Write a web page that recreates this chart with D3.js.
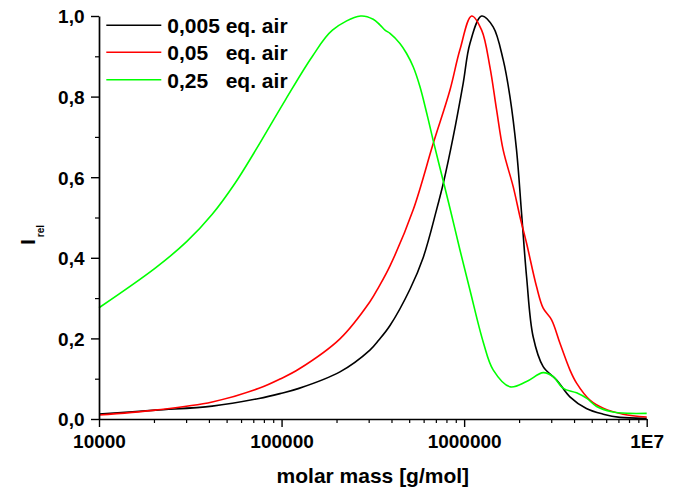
<!DOCTYPE html>
<html>
<head>
<meta charset="utf-8">
<script src="https://cdn.jsdelivr.net/npm/d3@7"></script>
<style>
  html, body { margin: 0; padding: 0; background: #fff; }
  svg { display: block; }
  text { font-family: "Liberation Sans", Arial, Helvetica, sans-serif; font-weight: bold; fill: #000; }
</style>
</head>
<body>
<svg id="chart" width="676" height="490"></svg>
<script>
// ---- Data ----
const seriesNames = ["0,005", "0,05", "0,25"];
const seriesColors = ["#000000", "#ff0000", "#00ff00"];

const massBlack = [10000, 20400, 41700, 75200, 98000, 124500, 208800, 304700, 341000, 392600, 505000, 597000, 706000, 769000, 871000, 988000, 1076000, 1247000, 1442000, 1637000, 1782000, 1937000, 2064000, 2198000, 2388000, 2710000, 3211000, 3796000, 4673000, 5781000, 7129000, 10000000];
const valBlack  = [0.012, 0.022, 0.032, 0.051, 0.063, 0.076, 0.117, 0.171, 0.196, 0.232, 0.322, 0.401, 0.519, 0.585, 0.700, 0.833, 0.932, 1.000, 0.973, 0.891, 0.800, 0.667, 0.510, 0.353, 0.204, 0.130, 0.097, 0.055, 0.026, 0.012, 0.004, 0.002];

const massRed = [10000, 20400, 41700, 75200, 99000, 124500, 208800, 304700, 341000, 392600, 526000, 677600, 835000, 948000, 1099000, 1247000, 1384000, 1506000, 1637000, 1858000, 2022000, 2198000, 2494000, 2710000, 3013000, 3349000, 3796000, 4130000, 4887000, 5781000, 7430000, 10000000];
const valRed  = [0.010, 0.022, 0.042, 0.076, 0.100, 0.124, 0.199, 0.291, 0.328, 0.380, 0.519, 0.684, 0.815, 0.916, 1.000, 0.965, 0.874, 0.767, 0.667, 0.576, 0.502, 0.436, 0.328, 0.275, 0.246, 0.188, 0.122, 0.089, 0.047, 0.027, 0.012, 0.005];

const massGreen = [10000, 20400, 30200, 41700, 55600, 72100, 105000, 147000, 190000, 271000, 317700, 345600, 368600, 392600, 445000, 484000, 526000, 572500, 623000, 677600, 769000, 855000, 948000, 1076000, 1274000, 1442000, 1782000, 2198000, 2710000, 3076000, 3491000, 4130000, 4700000, 5318000, 6430000, 8000000, 10000000];
const valGreen  = [0.276, 0.375, 0.440, 0.508, 0.585, 0.667, 0.792, 0.899, 0.965, 1.000, 0.992, 0.978, 0.965, 0.957, 0.932, 0.907, 0.874, 0.825, 0.760, 0.690, 0.590, 0.505, 0.420, 0.320, 0.190, 0.122, 0.080, 0.093, 0.115, 0.105, 0.076, 0.065, 0.051, 0.031, 0.018, 0.014, 0.014];

const xMajorTicks = [1e4, 1e5, 1e6, 1e7];
const xTickLabels = ["10000", "100000", "1000000", "1E7"];
const yMajorTicks = [0, 0.2, 0.4, 0.6, 0.8, 1.0];
const yMinorTicks = [0.1, 0.3, 0.5, 0.7, 0.9];

const xTitle = "molar mass [g/mol]";
const yTitleMain = "I";
const yTitleSub = "rel";
const legendSuffix = "eq. air";

// ---- Layout ----
const svg = d3.select("#chart");
const plotLeft = 99, plotRight = 646.7, plotTop = 16, plotBottom = 419;

const x = d3.scaleLog().domain([1e4, 1e7]).range([plotLeft, plotRight]);
const y = d3.scaleLinear().domain([0, 1]).range([plotBottom, plotTop]);

const xMinorTicks = [];
for (let d = 1e4; d < 1e7; d *= 10) for (let k = 2; k <= 9; k++) xMinorTicks.push(d * k);

// ---- Curves ----
const series = [
  { m: massBlack, v: valBlack },
  { m: massRed, v: valRed },
  { m: massGreen, v: valGreen }
];
const line = d3.line()
  .x(d => x(d[0]))
  .y(d => y(d[1]))
  .curve(d3.curveCatmullRom.alpha(0.5));

series.forEach((s, i) => {
  svg.append("path")
    .datum(s.m.map((mm, j) => [mm, s.v[j]]))
    .attr("fill", "none")
    .attr("stroke", seriesColors[i])
    .attr("stroke-width", 1.6)
    .attr("stroke-linejoin", "round")
    .attr("d", line);
});

// ---- Axes ----
const axisStroke = 1.7;
// X minor
svg.append("g").attr("transform", `translate(0,${plotBottom})`)
  .call(d3.axisBottom(x).tickValues(xMinorTicks).tickSize(4).tickFormat(""))
  .call(g => g.select(".domain").remove())
  .call(g => g.selectAll("line").attr("stroke-width", 1.2));
// X major
const gx = svg.append("g").attr("transform", `translate(0,${plotBottom})`)
  .call(d3.axisBottom(x).tickValues(xMajorTicks).tickSize(8).tickSizeOuter(0)
    .tickFormat((d, i) => xTickLabels[i]));
gx.select(".domain").attr("stroke-width", axisStroke);
gx.selectAll("line").attr("stroke-width", 1.4);
gx.selectAll("text").attr("y", 29).attr("dy", 0).style("font-size", "19px");

// Y minor
svg.append("g").attr("transform", `translate(${plotLeft},0)`)
  .call(d3.axisLeft(y).tickValues(yMinorTicks).tickSize(4).tickFormat(""))
  .call(g => g.select(".domain").remove())
  .call(g => g.selectAll("line").attr("stroke-width", 1.2));
// Y major
const gy = svg.append("g").attr("transform", `translate(${plotLeft},0)`)
  .call(d3.axisLeft(y).tickValues(yMajorTicks).tickSize(8).tickSizeOuter(0)
    .tickFormat(d => d3.format(".1f")(d).replace(".", ",")));
gy.select(".domain").attr("stroke-width", axisStroke);
gy.selectAll("line").attr("stroke-width", 1.4);
gy.selectAll("text").attr("x", -14.5).attr("dy", "0.36em").style("font-size", "19px");

svg.selectAll("g").attr("font-family", null).attr("font-size", null);
svg.selectAll(".tick text").attr("fill", "#000");

// ---- Axis titles ----
svg.append("text")
  .attr("x", (plotLeft + plotRight) / 2)
  .attr("y", 483)
  .attr("text-anchor", "middle")
  .style("font-size", "21px")
  .text(xTitle);

const yt = svg.append("text")
  .attr("transform", "translate(34.5,245) rotate(-90)")
  .attr("text-anchor", "start");
yt.append("tspan").style("font-size", "21px").text(yTitleMain);
yt.append("tspan").style("font-size", "10px").attr("dx", 2).attr("dy", 9).text(yTitleSub);

// ---- Legend ----
const legendY = [25.3, 52.3, 79.7];
seriesNames.forEach((name, i) => {
  svg.append("line")
    .attr("x1", 106.3).attr("x2", 161.3)
    .attr("y1", legendY[i]).attr("y2", legendY[i])
    .attr("stroke", seriesColors[i])
    .attr("stroke-width", 1.6);
  svg.append("text")
    .attr("x", 167.3).attr("y", legendY[i] + 8)
    .style("font-size", "21px")
    .text(name);
  svg.append("text")
    .attr("x", 225.7).attr("y", legendY[i] + 8)
    .style("font-size", "21px")
    .text(legendSuffix);
});
</script>
</body>
</html>
